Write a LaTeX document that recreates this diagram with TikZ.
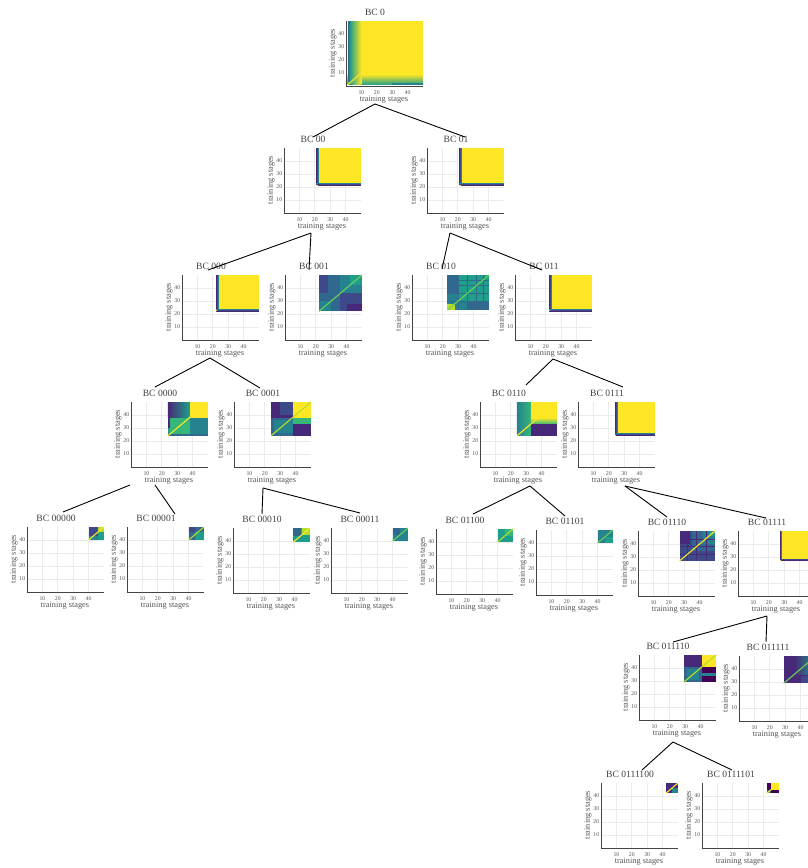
\documentclass[tikz,border=0pt]{standalone}
\usepackage{fontspec}
\setmainfont{Liberation Serif}
\definecolor{v0}{HTML}{440154}
\definecolor{v1}{HTML}{482878}
\definecolor{v2}{HTML}{3E4989}
\definecolor{v3}{HTML}{31688E}
\definecolor{v4}{HTML}{26828E}
\definecolor{v5}{HTML}{1F9E89}
\definecolor{v6}{HTML}{35B779}
\definecolor{v7}{HTML}{6ECE58}
\definecolor{v8}{HTML}{B5DE2B}
\definecolor{v9}{HTML}{FDE725}
\definecolor{titlegray}{HTML}{444444}
\definecolor{labgray}{HTML}{555555}
\definecolor{gridgray}{HTML}{EBEBEB}
\definecolor{axisgray}{HTML}{444444}
\tikzset{
  paneltitle/.style={font=\fontsize{9.6}{10}\selectfont, text=titlegray, inner sep=0pt},
  axtitle/.style={font=\fontsize{8.3}{9}\selectfont, text=labgray, inner sep=0pt},
  ticklab/.style={font=\fontsize{5.8}{6}\selectfont, text=labgray, inner sep=0pt},
  gridline/.style={draw=gridgray, line width=0.8pt},
  axisline/.style={draw=axisgray, line width=0.9pt},
  conn/.style={draw=black, line width=0.9pt},
  diagline/.style={line width=1.1pt},
}
% #1 name/title, #2 L (x of data 0), #3 B (y of data 0), #4 heatmap code
\newcommand{\panel}[4]{%
  \begin{scope}[shift={(#2,#3)}]
    \begin{scope}[x=1.54pt,y=1.3pt]
      \foreach \g in {10,20,30,40} {
        \draw[gridline] (\g,0) -- (\g,50);
        \draw[gridline] (0,\g) -- (50,\g);
      }
      #4
      \draw[axisline] (0,50) -- (0,0) -- (50,0);
      \foreach \g in {10,20,30,40} {
        \node[ticklab] (xt#1-\g) at (\g,-4.8) {\g};
        \node[ticklab, anchor=east] (yt#1-\g) at (-1.0,\g) {\g};
      }
    \end{scope}
    \node[paneltitle] (t#1) at (29,-74) {BC #1};
    \node[axtitle] (xl#1) at (38,14) {training stages};
    \node[axtitle, rotate=90] (yl#1) at (-13,-33) {training stages};
  \end{scope}}
% yellow block heatmap with dark left / bottom strips
\newcommand{\hmyel}[1]{%
  \fill[v9] (#1,#1) rectangle (50,50);
  \fill[v4] (#1,#1) rectangle (#1+1.8,50);
  \fill[v2] (#1,#1) rectangle (#1+1.1,50);
  \fill[v1] (#1,#1) rectangle (#1+0.5,50);
  \fill[v4] (#1,#1) rectangle (50,#1+1.8);
  \fill[v2] (#1,#1) rectangle (50,#1+1.1);
  \fill[v1] (#1,#1) rectangle (50,#1+0.5);
  \fill[v9] (#1,#1) rectangle (#1+0.9,#1+0.9);
}
\newcommand{\hmdiag}[2]{\draw[diagline, #2] (#1,#1) -- (50,50);}
\begin{document}
\begin{tikzpicture}[x=1pt,y=-1pt]
\useasboundingbox (0,0) rectangle (808,868);
\fill[white] (0,0) rectangle (808,868);

% ---------- panels ----------
\panel{0}{346}{86}{%
  \fill[v9] (1,1) rectangle (50,50);
  \shade[bottom color=v5, top color=v9] (1,1) rectangle (50,9);
  \fill[v4] (30,1) rectangle (50,2);
  \shade[left color=v5, right color=v9] (2.5,1) rectangle (10,50);
  \fill[v4] (1,3) rectangle (2.5,50);
  \fill[v3] (1,3) rectangle (1.8,50);
  \draw[v9, line width=1.4pt, opacity=0.8] (1,1) -- (15,15);
  \fill[v8] (1,1) rectangle (2.2,2.2);
}
\panel{00}{284}{213}{\hmyel{21}}
\panel{01}{427}{213}{\hmyel{21}}
\panel{000}{182}{340}{\hmyel{22}}
\panel{001}{285}{340}{%
  \fill[v3] (22,22) rectangle (50,50);
  \fill[v2] (36,22) rectangle (50,36);
  \fill[v1] (40,22) rectangle (50,28);
  \fill[v4] (36,36) rectangle (50,50);
  \fill[v5] (42,42) rectangle (50,50);
  \fill[v2] (22,36) rectangle (28,50);
  \fill[v4] (22,22) rectangle (30,30);
  \hmdiag{22}{v7}
}
\panel{010}{412}{340}{%
  \fill[v4] (23,23) rectangle (50,50);
  \fill[v5] (30,30) rectangle (50,50);
  \fill[v3] (23,36) rectangle (30,50);
  \fill[v3] (36,23) rectangle (50,30);
  \foreach \q in {30,36,42,46} {
    \draw[v3, line width=0.4pt] (\q,23) -- (\q,50);
    \draw[v3, line width=0.4pt] (23,\q) -- (50,\q);
  }
  \fill[v8] (23,23) rectangle (28,28);
  \hmdiag{23}{v7}
}
\panel{011}{515}{340}{\hmyel{22}}
\panel{0000}{131}{467}{%
  \fill[v5] (24,24) rectangle (50,50);
  \shade[left color=v1, right color=v5] (24,38) rectangle (38,50);
  \fill[v4] (38,24) rectangle (50,38);
  \fill[v9] (38,38) rectangle (50,50);
  \fill[v6] (25.5,25.5) rectangle (38,38);
  \fill[v3] (24,24) rectangle (50,25.5);
  \fill[v1] (24,30) rectangle (25.5,50);
  \hmdiag{24}{v9}
}
\panel{0001}{234}{467}{%
  \fill[v3] (24,24) rectangle (50,50);
  \fill[v1] (24,38) rectangle (38,50);
  \fill[v2] (30,40) rectangle (38,50);
  \fill[v9] (38,38) rectangle (50,50);
  \fill[v6] (38,33) rectangle (50,38);
  \fill[v1] (38,24) rectangle (50,33);
  \fill[v4] (26,26) rectangle (38,36);
  \hmdiag{24}{v8}
}
\panel{0110}{480}{467}{%
  \fill[v5] (24,24) rectangle (50,50);
  \shade[left color=v4, right color=v6] (24,24) rectangle (33,50);
  \fill[v9] (33,38) rectangle (50,50);
  \shade[bottom color=v6, top color=v9] (33,33) rectangle (50,38);
  \fill[v1] (33,24) rectangle (50,33);
  \hmdiag{24}{v9}
}
\panel{0111}{578}{467}{\hmyel{24}}
\panel{00000}{27}{592}{%
  \fill[v2] (40,40) rectangle (50,50);
  \fill[v5] (46,40) rectangle (50,46);
  \fill[v8] (46,46) rectangle (50,50);
  \fill[v4] (40,40) rectangle (46,43);
  \hmdiag{40}{v9}
}
\panel{00001}{127}{592}{%
  \fill[v3] (40,40) rectangle (50,50);
  \fill[v5] (44,40) rectangle (50,46);
  \fill[v2] (40,46) rectangle (44,50);
  \hmdiag{40}{v8}
}
\panel{00010}{233}{593}{%
  \fill[v5] (39,39) rectangle (50,50);
  \fill[v8] (45,45) rectangle (50,50);
  \fill[v3] (39,44) rectangle (44,50);
  \hmdiag{39}{v9}
}
\panel{00011}{331}{593}{%
  \fill[v4] (40,40) rectangle (50,50);
  \fill[v3] (40,45) rectangle (45,50);
  \hmdiag{40}{v7}
}
\panel{01100}{436}{594}{%
  \fill[v5] (40,40) rectangle (50,50);
  \fill[v6] (45,45) rectangle (50,50);
  \hmdiag{40}{v8}
}
\panel{01101}{536}{595}{%
  \fill[v4] (40,40) rectangle (50,50);
  \fill[v5] (45,40) rectangle (50,45);
  \hmdiag{40}{v7}
}
\panel{01110}{638}{596}{%
  \fill[v2] (27,27) rectangle (50,50);
  \fill[v3] (35,35) rectangle (50,50);
  \fill[v4] (42,40) rectangle (50,50);
  \fill[v1] (27,40) rectangle (34,50);
  \fill[v5] (46,46) rectangle (50,50);
  \foreach \q in {32,38,44} {
    \draw[v1, line width=0.4pt] (\q,27) -- (\q,50);
    \draw[v1, line width=0.4pt] (27,\q) -- (50,\q);
  }
  \hmdiag{27}{v9}
}
\panel{01111}{738}{596}{\hmyel{27}}
\panel{011110}{639}{720}{%
  \fill[v3] (29,29) rectangle (50,50);
  \fill[v1] (29,41) rectangle (41,50);
  \fill[v9] (41,41) rectangle (50,50);
  \fill[v0] (41,29) rectangle (50,41);
  \fill[v4] (41,34) rectangle (50,36);
  \fill[v4] (31,31) rectangle (39,39);
  \hmdiag{29}{v8}
}
\panel{011111}{739}{721}{%
  \fill[v1] (29,29) rectangle (50,50);
  \shade[left color=v1, right color=v5] (36,36) rectangle (50,50);
  \fill[v2] (40,29) rectangle (50,35);
  \hmdiag{29}{v7}
}
\panel{0111100}{601}{848}{%
  \fill[v1] (42,42) rectangle (50,50);
  \fill[v4] (46,42) rectangle (50,46);
  \hmdiag{42}{v9}
}
\panel{0111101}{702}{848}{%
  \fill[v0] (42,42) rectangle (50,50);
  \fill[v9] (45,45) rectangle (50,50);
  \fill[v3] (42,42) rectangle (45,45);
  \hmdiag{42}{v9}
}

% ---------- connector points ----------
\coordinate (s0) at (375,104);
\coordinate (e00) at (313,137);
\coordinate (e01) at (465,137);
\coordinate (s00) at (311,233);
\coordinate (e000) at (208,270);
\coordinate (e001) at (309,270);
\coordinate (s01) at (450,233);
\coordinate (e010) at (442,269);
\coordinate (e011) at (542,270);
\coordinate (s000) at (210,358);
\coordinate (e0000) at (155,387);
\coordinate (e0001) at (260,388);
\coordinate (s011) at (553,359);
\coordinate (e0110) at (526,385);
\coordinate (e0111) at (623,387);
\coordinate (s0000a) at (130,485);
\coordinate (s0000b) at (155,485);
\coordinate (e00000) at (63,512);
\coordinate (e00001) at (175,514);
\coordinate (s0001) at (263,488);
\coordinate (e00010) at (262,514);
\coordinate (e00011) at (360,513);
\coordinate (s0110) at (530,486);
\coordinate (e01100) at (473,514);
\coordinate (e01101) at (565,516);
\coordinate (s0111) at (625,486);
\coordinate (e01110) at (667,517);
\coordinate (e01111) at (766,518);
\coordinate (s01111) at (767,616);
\coordinate (e011110) at (673,642);
\coordinate (e011111) at (766,642);
\coordinate (s011110) at (673,742);
\coordinate (e0111100) at (642,770);
\coordinate (e0111101) at (732,770);

\draw[conn] (s0) -- (e00);
\draw[conn] (s0) -- (e01);
\draw[conn] (s00) -- (e000);
\draw[conn] (s00) -- (e001);
\draw[conn] (s01) -- (e010);
\draw[conn] (s01) -- (e011);
\draw[conn] (s000) -- (e0000);
\draw[conn] (s000) -- (e0001);
\draw[conn] (s011) -- (e0110);
\draw[conn] (s011) -- (e0111);
\draw[conn] (s0000a) -- (e00000);
\draw[conn] (s0000b) -- (e00001);
\draw[conn] (s0001) -- (e00010);
\draw[conn] (s0001) -- (e00011);
\draw[conn] (s0110) -- (e01100);
\draw[conn] (s0110) -- (e01101);
\draw[conn] (s0111) -- (e01110);
\draw[conn] (s0111) -- (e01111);
\draw[conn] (s01111) -- (e011110);
\draw[conn] (s01111) -- (e011111);
\draw[conn] (s011110) -- (e0111100);
\draw[conn] (s011110) -- (e0111101);
\end{tikzpicture}
\end{document}
